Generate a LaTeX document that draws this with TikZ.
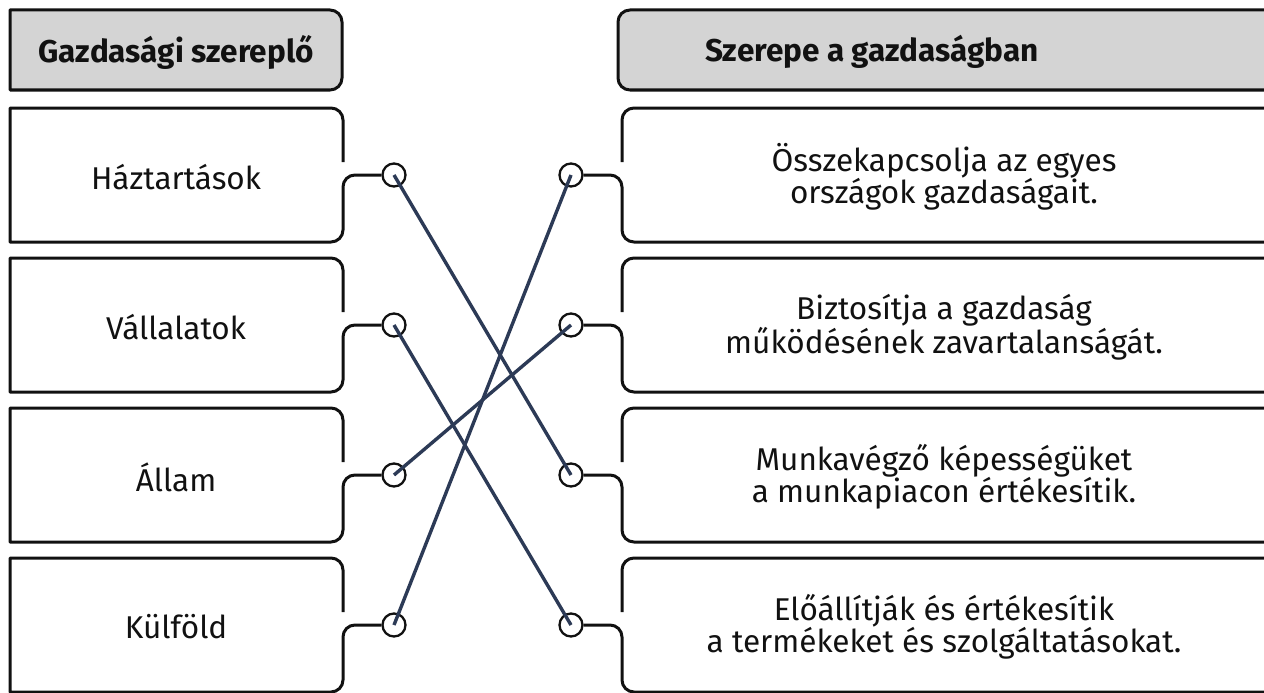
\documentclass[tikz,border=0pt]{standalone}
\usepackage{fontspec}
\setmainfont{Fira Sans}
\definecolor{boxline}{HTML}{111111}
\definecolor{navy}{HTML}{2C3A56}
\definecolor{headfill}{HTML}{D4D4D4}
\begin{document}
\begin{tikzpicture}[x=1pt,y=-1pt,
  boxpath/.style={draw=boxline,line width=3pt,line join=round},
  headpath/.style={draw=boxline,fill=headfill,line width=3pt,line join=round},
  pin/.style={circle,draw=boxline,line width=2.3pt,minimum size=23pt,inner sep=0pt,fill=white},
  link/.style={draw=navy,line width=3.4pt},
  txt/.style={font=\fontsize{31.5}{32}\selectfont,text=boxline,align=center,inner sep=0pt},
  headtxt/.style={font=\fontsize{31.5}{32}\selectfont\bfseries,text=boxline,inner sep=0pt}]
\useasboundingbox (0,0) rectangle (1264,693);

% headers
\draw[headpath] (10,10) -- (330,10) arc[start angle=-90,end angle=0,radius=12]
  -- (342,78) arc[start angle=0,end angle=90,radius=12] -- (10,90) -- cycle;
\draw[headpath] (1290,10) -- (630,10) arc[start angle=-90,end angle=-180,radius=12]
  -- (618,78) arc[start angle=180,end angle=90,radius=12] -- (1290,90) -- cycle;
\node[headtxt] (h1) at (176,52) {Gazdasági szereplő};
\node[headtxt] (h2) at (872,52) {Szerepe a gazdaságban};

% pins
\foreach \i in {1,...,4}{
  \pgfmathsetmacro{\c}{175+150*(\i-1)}
  \node[pin] (L\i) at (394,\c) {};
  \node[pin] (R\i) at (571,\c) {};
}

% boxes
\foreach \i in {1,...,4}{
  \pgfmathsetmacro{\t}{108+150*(\i-1)}
  \pgfmathsetmacro{\b}{\t+134}
  \pgfmathsetmacro{\c}{\t+67}
  \draw[boxpath] (343,\t+54) -- (343,\t+12) arc[start angle=0,end angle=-90,radius=12]
    -- (10,\t) -- (10,\b) -- (331,\b) arc[start angle=90,end angle=0,radius=12]
    -- (343,\c+12) arc[start angle=180,end angle=270,radius=12] -- (L\i.west);
  \draw[boxpath] (1290,\t) -- (634,\t) arc[start angle=-90,end angle=-180,radius=12]
    -- (622,\t+54);
  \draw[boxpath] (1290,\b) -- (634,\b) arc[start angle=90,end angle=180,radius=12]
    -- (622,\c+12) arc[start angle=0,end angle=-90,radius=12] -- (R\i.east);
}

% texts
\node[txt] (a1) at (176,177) {Háztartások};
\node[txt] (a2) at (176,327) {Vállalatok};
\node[txt] (a3) at (176,477) {Állam};
\node[txt] (a4) at (176,627) {Külföld};
\node[txt] (b1) at (944,177) {Összekapcsolja az egyes\\országok gazdaságait.};
\node[txt] (b2) at (944,327) {Biztosítja a gazdaság\\működésének zavartalanságát.};
\node[txt] (b3) at (944,477) {Munkavégző képességüket\\a munkapiacon értékesítik.};
\node[txt] (b4) at (944,627) {Előállítják és értékesítik\\a termékeket és szolgáltatásokat.};

% links
\draw[link] (L1.center) -- (R3.center);
\draw[link] (L2.center) -- (R4.center);
\draw[link] (L3.center) -- (R2.center);
\draw[link] (L4.center) -- (R1.center);
\end{tikzpicture}
\end{document}
